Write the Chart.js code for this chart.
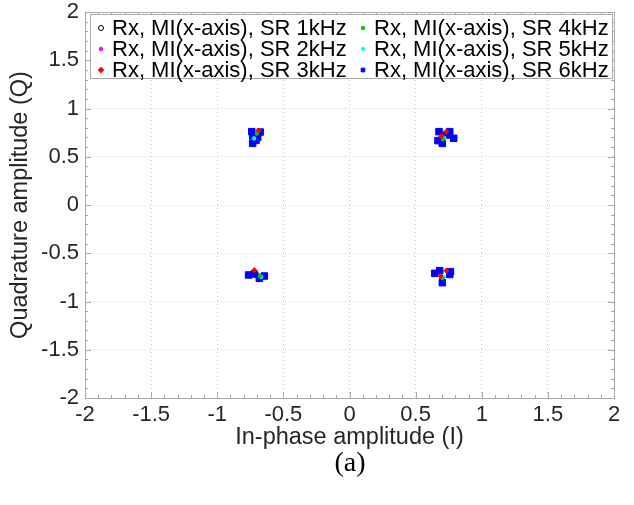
<!DOCTYPE html>
<html>
<head>
<meta charset="utf-8">
<script src="https://cdn.jsdelivr.net/npm/chart.js@4.4.0/dist/chart.umd.min.js"></script>
<style>
    html, body { margin: 0; padding: 0; background: #fff; }
    canvas { display: block; }
</style>
</head>
<body>
<canvas id="iqChart" width="634" height="505"></canvas>
<script>
//--------------------------------------------Variables

const seriesLabels = [
    'Rx, MI(x-axis), SR 1kHz',
    'Rx, MI(x-axis), SR 2kHz',
    'Rx, MI(x-axis), SR 3kHz',
    'Rx, MI(x-axis), SR 4kHz',
    'Rx, MI(x-axis), SR 5kHz',
    'Rx, MI(x-axis), SR 6kHz'
];

// in-phase (I) / quadrature (Q) values per symbol rate
const sr1kI = [-0.707, 0.70, -0.70, 0.70];
const sr1kQ = [0.67, 0.70, -0.725, -0.76];

const sr2kI = [-0.694, 0.702, -0.72, 0.682];
const sr2kQ = [0.701, 0.639, -0.715, -0.681];

const sr3kI = [-0.686, 0.694, 0.732, -0.72, 0.687, 0.732];
const sr3kQ = [0.77, 0.712, 0.76, -0.675, -0.736, -0.681];

const sr4kI = [0.707, -0.676, 0.702, -0.70];
const sr4kQ = [0.681, -0.736, -0.756, 0.74];

const sr5kI = [0.716, -0.668, 0.712, -0.722];
const sr5kQ = [0.695, -0.745, -0.745, 0.69];

const sr6kI = [-0.739, -0.675, -0.732, -0.694, -0.732, -0.707,
               0.677, 0.758, 0.669, 0.702, 0.788, 0.732,
               -0.763, -0.72, -0.644, -0.682,
               0.644, 0.682, 0.763, 0.758, 0.702];
const sr6kQ = [0.76, 0.756, 0.715, 0.701, 0.639, 0.67,
               0.76, 0.76, 0.667, 0.639, 0.691, 0.725,
               -0.725, -0.715, -0.736, -0.76,
               -0.708, -0.681, -0.691, -0.72, -0.805];

const xTicks = [-2, -1.5, -1, -0.5, 0, 0.5, 1, 1.5, 2];
const yTicks = [-2, -1.5, -1, -0.5, 0, 0.5, 1, 1.5, 2];

const FONT = "'Liberation Sans', Arial, sans-serif";
const AXIS_GREY = '#a8a8a8';
const TEXT_DARK = '#262626';

const zip = (xs, ys) => xs.map((x, i) => ({ x: x, y: ys[i] }));

const markerStyles = [
    { style: 'circle',  radius: 2.5, fill: 'rgba(255,255,255,0)', stroke: '#000000', order: 2, legendRadius: 2.5 },
    { style: 'circle',  radius: 1.8, fill: '#ff00ff', stroke: '#ff00ff', order: 2, legendRadius: 1.8 },
    { style: 'rectRot', radius: 2.6, fill: '#ff0000', stroke: '#ff0000', order: 0, legendRadius: 2.8 },
    { style: 'circle',  radius: 1.8, fill: '#00cc00', stroke: '#00cc00', order: 0, legendRadius: 1.8 },
    { style: 'circle',  radius: 1.8, fill: '#00ffff', stroke: '#00ffff', order: 0, legendRadius: 1.8 },
    { style: 'rect',    radius: 4.6, fill: '#0000ff', stroke: '#0000ff', order: 1, legendRadius: 2.6 }
];

const seriesData = [
    zip(sr1kI, sr1kQ),
    zip(sr2kI, sr2kQ),
    zip(sr3kI, sr3kQ),
    zip(sr4kI, sr4kQ),
    zip(sr5kI, sr5kQ),
    zip(sr6kI, sr6kQ)
];

// legend is filled column by column, 3 rows
const legendOrder = [0, 3, 1, 4, 2, 5];

//--------------------------------------------Plugins

const frameAndTicks = {
    id: 'frameAndTicks',
    afterDatasetsDraw(chart) {
        const { ctx, chartArea: a, scales } = chart;
        ctx.save();
        ctx.strokeStyle = AXIS_GREY;
        ctx.lineWidth = 1;
        ctx.beginPath();
        for (let i = -20; i <= 20; i++) {
            const v = i / 10;
            const len = (i % 5 === 0) ? 6 : 3;
            const px = Math.round(scales.x.getPixelForValue(v)) + 0.5;
            const py = Math.round(scales.y.getPixelForValue(v)) + 0.5;
            ctx.moveTo(px, a.bottom); ctx.lineTo(px, a.bottom - len);
            ctx.moveTo(px, a.top); ctx.lineTo(px, a.top + len);
            ctx.moveTo(a.left, py); ctx.lineTo(a.left + len, py);
            ctx.moveTo(a.right, py); ctx.lineTo(a.right - len, py);
        }
        ctx.stroke();
        ctx.strokeRect(Math.round(a.left) + 0.5, Math.round(a.top) + 0.5,
            Math.round(a.right - a.left), Math.round(a.bottom - a.top));
        ctx.restore();
    }
};

const boxLegend = {
    id: 'boxLegend',
    afterDraw(chart) {
        const { ctx, chartArea: a } = chart;
        const left = a.left + 5, top = a.top + 2;
        const right = a.right - 2, bottom = top + 64;
        ctx.save();
        ctx.fillStyle = '#ffffff';
        ctx.fillRect(left, top, right - left, bottom - top);
        ctx.strokeStyle = AXIS_GREY;
        ctx.lineWidth = 1;
        ctx.strokeRect(Math.round(left) + 0.5, Math.round(top) + 0.5,
            Math.round(right - left), Math.round(bottom - top));

        ctx.font = '22px ' + FONT;
        ctx.textBaseline = 'middle';
        ctx.textAlign = 'left';
        const colX = [left + 11, left + 273];
        legendOrder.forEach((idx, k) => {
            const col = k % 2, row = Math.floor(k / 2);
            const ds = chart.data.datasets[idx];
            const m = markerStyles[idx];
            const mx = colX[col], my = top + 14 + row * 21;
            ctx.fillStyle = m.fill;
            ctx.strokeStyle = m.stroke;
            Chart.helpers.drawPoint(ctx, {
                pointStyle: m.style, radius: m.legendRadius, rotation: 0, borderWidth: 1
            }, mx, my);
            ctx.fillStyle = '#000000';
            ctx.fillText(ds.label, mx + 11, my + 1);
        });
        ctx.restore();
    }
};

const caption = {
    id: 'caption',
    afterDraw(chart) {
        const { ctx } = chart;
        ctx.save();
        ctx.font = "28px 'Liberation Serif', 'Times New Roman', serif";
        ctx.fillStyle = '#000000';
        ctx.textAlign = 'center';
        ctx.textBaseline = 'middle';
        ctx.fillText('(a)', 350, 464);
        ctx.restore();
    }
};

//--------------------------------------------Chart

const config = {
    type: 'scatter',
    data: {
        datasets: seriesData.map((pts, i) => ({
            label: seriesLabels[i],
            data: pts,
            order: markerStyles[i].order,
            pointStyle: markerStyles[i].style,
            pointRadius: markerStyles[i].radius,
            pointHoverRadius: markerStyles[i].radius,
            backgroundColor: markerStyles[i].fill,
            borderColor: markerStyles[i].stroke,
            borderWidth: 1
        }))
    },
    options: {
        responsive: false,
        animation: false,
        events: [],
        layout: {
            padding: { left: 0, top: 12, right: 20, bottom: 0 }
        },
        plugins: {
            legend: { display: false },
            title: { display: false },
            tooltip: { enabled: false }
        },
        scales: {
            x: {
                type: 'linear',
                min: -2,
                max: 2,
                afterBuildTicks: (scale) => { scale.ticks = xTicks.map(v => ({ value: v })); },
                afterFit: (scale) => {
                    scale.height = 107;
                    scale.paddingLeft = 0;
                    scale.paddingRight = 0;
                },
                grid: {
                    color: '#c8c8c8',
                    lineWidth: 1,
                    drawTicks: false
                },
                border: { display: false, dash: [1, 3] },
                ticks: {
                    color: TEXT_DARK,
                    padding: 4,
                    maxRotation: 0,
                    autoSkip: false,
                    font: { family: FONT, size: 22 },
                    callback: (v) => String(v)
                },
                title: {
                    display: true,
                    text: 'In-phase amplitude (I)',
                    color: TEXT_DARK,
                    font: { family: FONT, size: 23.5 },
                    padding: { top: 0, bottom: 53 }
                }
            },
            y: {
                type: 'linear',
                min: -2,
                max: 2,
                afterBuildTicks: (scale) => { scale.ticks = yTicks.map(v => ({ value: v })); },
                afterFit: (scale) => {
                    scale.width = 85;
                    scale.paddingTop = 0;
                    scale.paddingBottom = 0;
                },
                grid: {
                    color: '#c8c8c8',
                    lineWidth: 1,
                    drawTicks: false
                },
                border: { display: false, dash: [1, 3] },
                ticks: {
                    color: TEXT_DARK,
                    padding: 6,
                    autoSkip: false,
                    font: { family: FONT, size: 22 },
                    callback: (v) => String(v)
                },
                title: {
                    display: true,
                    text: 'Quadrature amplitude (Q)',
                    color: TEXT_DARK,
                    font: { family: FONT, size: 23.5 },
                    padding: { top: 6, bottom: 0 }
                }
            }
        }
    },
    plugins: [frameAndTicks, boxLegend, caption]
};

new Chart(document.getElementById('iqChart'), config);
</script>
</body>
</html>
